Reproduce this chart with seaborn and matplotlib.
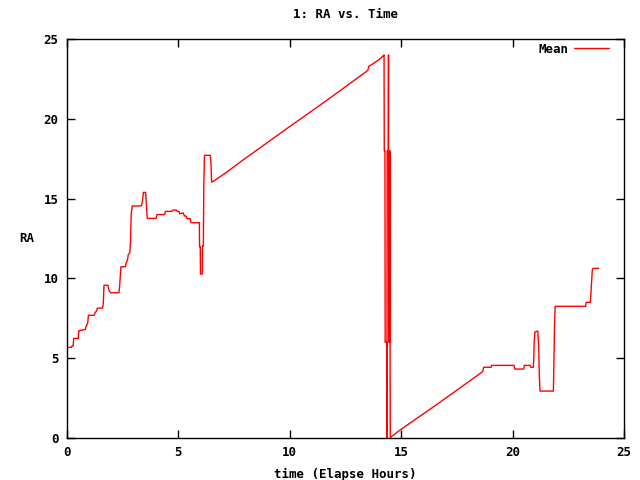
import matplotlib
matplotlib.use("Agg")
import matplotlib.pyplot as plt
import seaborn as sns
import pandas as pd

# Data (elapsed hours, mean RA)
time_part1 = [0.00, 0.21, 0.23, 0.28, 0.30, 0.51, 0.53, 0.82, 0.85, 0.93, 0.96, 1.22, 1.26,
              1.34, 1.36, 1.60, 1.63, 1.66, 1.84, 1.88, 1.95, 2.33, 2.36, 2.42, 2.62, 2.65,
              2.72, 2.75, 2.82, 2.85, 2.88, 2.93, 3.33, 3.37, 3.43, 3.53, 3.57, 3.60, 4.00,
              4.04, 4.38, 4.42, 4.70, 4.75, 4.90, 4.95, 5.02, 5.06, 5.22, 5.27, 5.35, 5.39,
              5.53, 5.57, 5.94, 5.95, 5.98, 5.99, 6.07, 6.08, 6.12, 6.14, 6.17, 6.43, 6.46,
              6.49]
ra_part1 = [5.68, 5.68, 5.78, 5.78, 6.24, 6.24, 6.72, 6.80, 6.97, 7.20, 7.69, 7.69, 7.85,
            8.00, 8.14, 8.14, 8.48, 9.57, 9.57, 9.27, 9.10, 9.10, 9.48, 10.73, 10.73, 10.94,
            11.20, 11.49, 11.60, 12.30, 14.00, 14.54, 14.54, 14.70, 15.39, 15.39, 14.50, 13.76, 13.76,
            14.00, 14.00, 14.20, 14.20, 14.28, 14.28, 14.20, 14.20, 14.05, 14.10, 13.91, 13.91, 13.74,
            13.74, 13.49, 13.49, 11.99, 11.99, 10.27, 10.27, 12.03, 12.03, 15.85, 17.71, 17.71, 17.30,
            16.04]

time_ramp1 = [6.52, 7.09, 7.76, 8.00, 9.00, 10.00, 11.00, 12.00, 13.00, 13.50, 13.55, 13.68,
              14.00, 14.20]
ra_ramp1 = [16.04, 16.58, 17.27, 17.52, 18.52, 19.52, 20.50, 21.50, 22.52, 23.03, 23.30, 23.40,
            23.70, 23.95]

time_wrap = [14.23, 14.24, 14.27, 14.28, 14.35, 14.36, 14.37, 14.42, 14.43, 14.44, 14.48, 14.49,
             14.50, 14.51]
ra_wrap = [24.00, 18.00, 18.00, 6.00, 6.00, 0.00, 18.00, 18.00, 24.00, 6.00, 6.00, 18.00,
           6.00, 0.00]

time_part2 = [14.55, 15.00, 16.00, 16.74, 17.00, 18.00, 18.66, 18.70, 19.03, 19.06, 20.06, 20.10,
              20.50, 20.53, 20.78, 20.82, 20.93, 20.95, 20.97, 21.00, 21.13, 21.17, 21.20, 21.23,
              21.83, 21.85, 21.88, 21.91, 23.28, 23.30, 23.49, 23.51, 23.55, 23.58, 23.62, 23.86]
ra_part2 = [0.08, 0.55, 1.52, 2.24, 2.50, 3.50, 4.16, 4.43, 4.43, 4.55, 4.55, 4.32,
            4.32, 4.55, 4.55, 4.43, 4.43, 4.99, 6.03, 6.64, 6.70, 5.76, 3.88, 2.94,
            2.94, 4.32, 6.93, 8.25, 8.25, 8.50, 8.50, 9.00, 9.90, 10.57, 10.63, 10.63]

x_ticks = [0, 5, 10, 15, 20, 25]
y_ticks = [0, 5, 10, 15, 20, 25]

times = time_part1 + time_ramp1 + time_wrap + time_part2
ras = ra_part1 + ra_ramp1 + ra_wrap + ra_part2
df = pd.DataFrame({"time": times, "RA": ras})

sns.set_style("ticks")
plt.rcParams['font.family'] = ['DejaVu Sans Mono', 'DejaVu Sans']
plt.rcParams['font.weight'] = 'bold'
plt.rcParams['text.color'] = 'black'
plt.rcParams['axes.labelcolor'] = 'black'

fig = plt.figure(figsize=(6.4, 4.8), dpi=100)
ax = fig.add_axes([67/640, 1 - 438/480, (624 - 67)/640, (438 - 39)/480])

sns.lineplot(data=df, x="time", y="RA", sort=False, estimator=None, color="#ff0000",
             linewidth=1.0, label="Mean", ax=ax)

ax.set_xlim(0, 25)
ax.set_ylim(0, 25)
ax.set_xticks(x_ticks)
ax.set_yticks(y_ticks)
ax.tick_params(direction="in", length=6, width=1, top=True, right=True,
               labelsize=9, colors="black", pad=6)
for lbl in ax.get_xticklabels() + ax.get_yticklabels():
    lbl.set_fontweight("bold")
for s in ax.spines.values():
    s.set_visible(True)
    s.set_linewidth(1.0)
    s.set_color("black")

ax.set_title("1: RA vs. Time", fontsize=9, fontweight="bold", pad=15, color="black")
ax.set_xlabel("time (Elapse Hours)", fontsize=9, fontweight="bold", labelpad=6, color="black")
ax.set_ylabel("RA", fontsize=9, fontweight="bold", rotation=0, labelpad=12, va="center",
              color="black")

leg = ax.legend(loc="upper right", bbox_to_anchor=(0.980, 1.0), frameon=False,
                markerfirst=False, handlelength=2.8, borderaxespad=0.1, borderpad=0.2,
                handletextpad=0.45, prop={"weight": "bold", "size": 9})
for t in leg.get_texts():
    t.set_color("black")

fig.savefig("out.png", dpi=100)
